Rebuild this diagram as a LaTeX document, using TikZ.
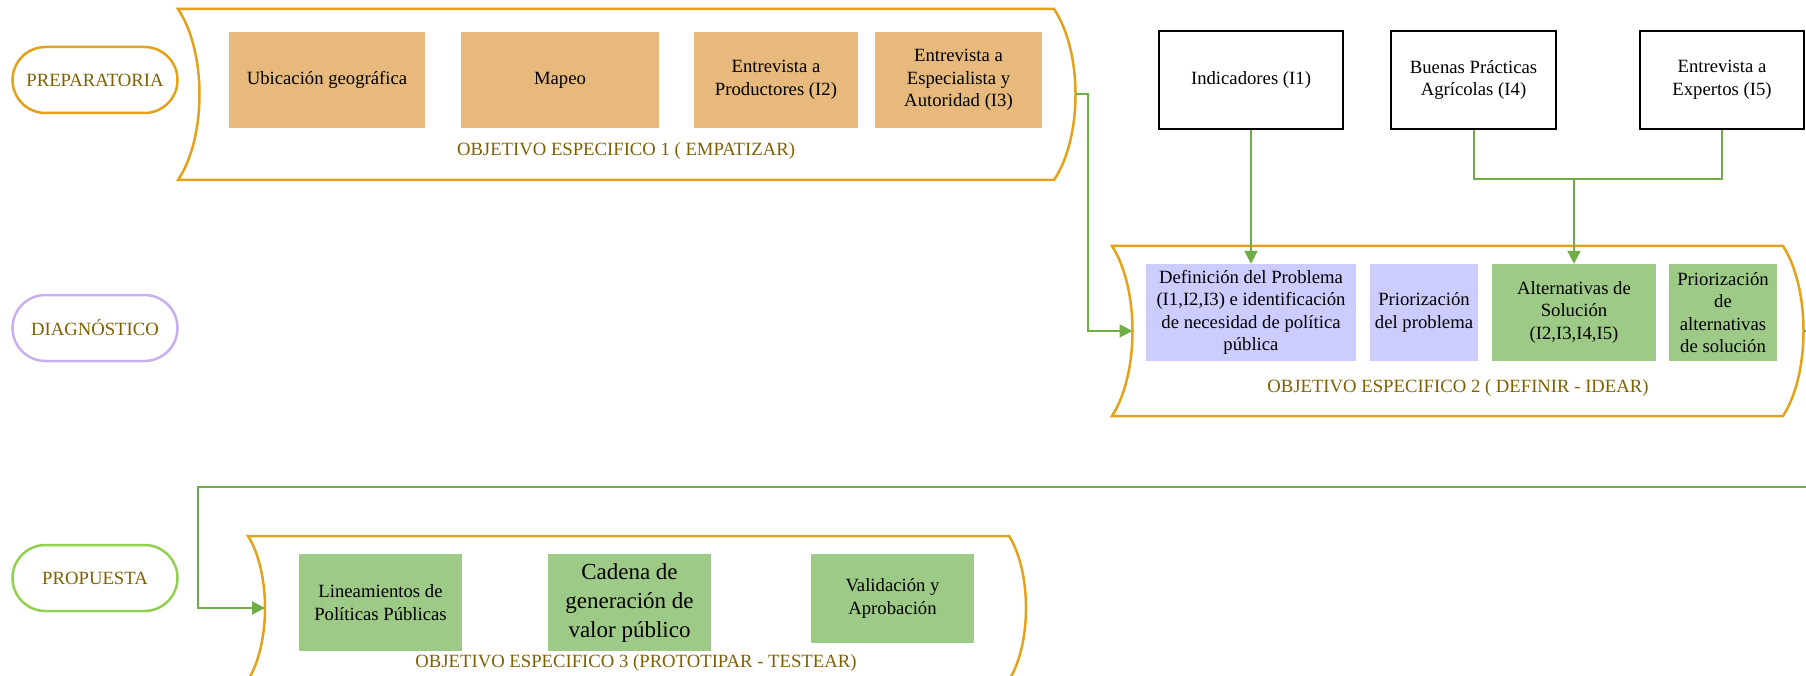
\documentclass[tikz,border=0pt]{standalone}
\usepackage{fontspec}
\setmainfont{Liberation Serif}
\usetikzlibrary{calc,arrows.meta}
\definecolor{goldline}{RGB}{227,162,26}
\definecolor{goldtext}{RGB}{127,96,0}
\definecolor{lilac}{RGB}{204,174,238}
\definecolor{leafline}{RGB}{146,208,80}
\definecolor{wirecol}{RGB}{112,173,71}
\definecolor{sandfill}{RGB}{231,185,124}
\definecolor{lavfill}{RGB}{204,204,255}
\definecolor{sagefill}{RGB}{158,202,136}
\newcommand{\bodyfont}{\fontsize{18.7}{22.5}\selectfont}
\newcommand{\cadenafont}{\fontsize{23}{29}\selectfont}
\tikzset{
    stage/.style={draw=#1, line width=2.5pt, rounded corners=33pt, minimum width=165pt, minimum height=66pt, text=goldtext, font=\bodyfont},
    task/.style={fill=#1, minimum height=96pt, inner sep=2pt, align=center, font=\bodyfont},
    source/.style={draw=black, line width=2pt, minimum height=98pt, inner sep=2pt, align=center, font=\bodyfont},
    objlabel/.style={text=goldtext, inner sep=0pt, font=\bodyfont},
    frame/.style={draw=goldline, line width=2.5pt},
    wire/.style={draw=wirecol, line width=2pt},
    link/.style={wire, -{Triangle[width=13pt,length=13pt]}}
}

\begin{document}
\begin{tikzpicture}[x=1pt, y=-1pt]
            % page
            \useasboundingbox (0,0) rectangle (1806,676);
            \clip (0,0) rectangle (1806,676);

            % objetivo frames (left side bent in, right side bent out)
            \foreach \n/\xl/\xr/\yt/\yb/\b in {1/178/1054/9/180/21.5, 2/1112/1783/246/416/20.5, 3/248/1009/536/680/17} {
                \draw[frame] (\xl,\yt) -- (\xr,\yt)
                    .. controls ({\xr+4/3*\b},{\yt+0.25*(\yb-\yt)}) and ({\xr+4/3*\b},{\yt+0.75*(\yb-\yt)}) .. (\xr,\yb)
                    -- (\xl,\yb)
                    .. controls ({\xl+4/3*\b},{\yt+0.75*(\yb-\yt)}) and ({\xl+4/3*\b},{\yt+0.25*(\yb-\yt)}) .. cycle;
                \coordinate (oe\n w) at ({\xl+\b},{(\yt+\yb)/2});
                \coordinate (oe\n e) at ({\xr+\b},{(\yt+\yb)/2});
            }

            % stages
            \node[stage=goldline] (prep) at (95,80) {PREPARATORIA};
            \node[stage=lilac] (diag) at (95,328) {DIAGNÓSTICO};
            \node[stage=leafline] (prop) at (95,578) {PROPUESTA};

            % objetivo 1
            \node[task=sandfill, minimum width=196pt] (ubic) at (327,80) {Ubicación geográfica};
            \node[task=sandfill, minimum width=198pt] (mapeo) at (560,80) {Mapeo};
            \node[task=sandfill, minimum width=164pt] (prod) at (776,80) {Entrevista a\\Productores (I2)};
            \node[task=sandfill, minimum width=167pt] (espec) at (958.5,80) {Entrevista a\\Especialista y\\Autoridad (I3)};
            \node[objlabel] (lab1) at (626,151) {OBJETIVO ESPECIFICO 1 ( EMPATIZAR)};

            % sources
            \node[source, minimum width=184pt] (indic) at (1251,80) {Indicadores (I1)};
            \node[source, minimum width=165pt] (bpa) at (1473.5,80) {Buenas Prácticas\\Agrícolas (I4)};
            \node[source, minimum width=164pt] (expert) at (1722,80) {Entrevista a\\Expertos (I5)};

            % objetivo 2
            \node[task=lavfill, minimum width=210pt, minimum height=97pt] (defin) at (1251,312.5) {Definición del Problema\\(I1,I2,I3) e identificación\\de necesidad de política\\pública};
            \node[task=lavfill, minimum width=108pt, minimum height=97pt] (prio1) at (1424,312.5) {Priorización\\del problema};
            \node[task=sagefill, minimum width=164pt, minimum height=97pt] (alter) at (1574,312.5) {Alternativas de\\Solución\\(I2,I3,I4,I5)};
            \node[task=sagefill, minimum width=108pt, minimum height=97pt] (prio2) at (1723,312.5) {Priorización\\de\\alternativas\\de solución};
            \node[objlabel] (lab2) at (1458,388) {OBJETIVO ESPECIFICO 2 ( DEFINIR - IDEAR)};

            % objetivo 3
            \node[task=sagefill, minimum width=163pt, minimum height=97pt] (linea) at (380.5,602.5) {Lineamientos de\\Políticas Públicas};
            \node[task=sagefill, minimum width=163pt, minimum height=97pt, font=\cadenafont] (cadena) at (629.5,602.5) {Cadena de\\generación de\\valor público};
            \node[task=sagefill, minimum width=163pt, minimum height=89pt] (valid) at (892.5,598.5) {Validación y\\Aprobación};
            \node[objlabel] (lab3) at (636,663) {OBJETIVO ESPECIFICO 3 (PROTOTIPAR - TESTEAR)};

            % links
            \coordinate (join) at (alter.north |- 0,179);
            \coordinate (loopback) at (198,487);
            \draw[link] (oe1e) -- ++(12,0) |- (oe2w);
            \draw[link] (indic.south) -- (defin.north);
            \draw[wire] (bpa.south) |- (join) -| (expert.south);
            \draw[link] (join) -- (alter.north);
            \draw[link] (oe2e) -- ++(30,0) |- (loopback) |- (oe3w);

\end{tikzpicture}
\end{document}
